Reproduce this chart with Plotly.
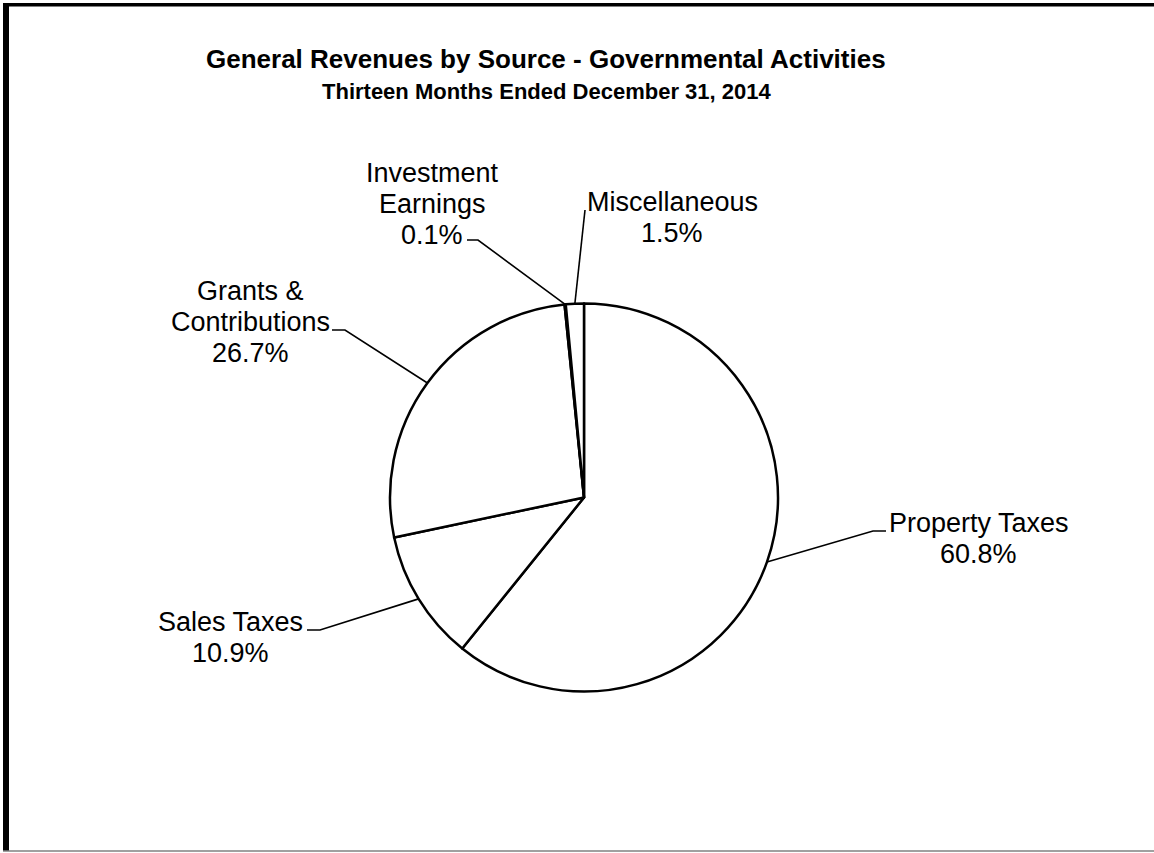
import math
import plotly.graph_objects as go

W, H = 1154, 853

# Revenue shares (percent of general revenues)
categories = ["Property Taxes", "Sales Taxes", "Grants & Contributions",
              "Investment Earnings", "Miscellaneous"]
shares = [60.8, 10.9, 26.7, 0.1, 1.5]
label_lines = [["Property Taxes"], ["Sales Taxes"], ["Grants &", "Contributions"],
               ["Investment", "Earnings"], ["Miscellaneous"]]

title_text = "General Revenues by Source - Governmental Activities"
subtitle_text = "Thirteen Months Ended December 31, 2014"

# Pie placement in pixels (centre and radius)
CX, CY, R = 584, 497.5, 194

# Label layout: text centre x, first-line centre y, leader elbow, leader end
label_layout = [
    dict(x=979, y=523, elbow=(873, 531), end=(886, 531)),
    dict(x=230, y=622, elbow=(320, 630), end=(307, 630)),
    dict(x=250, y=291, elbow=(345, 330), end=(332, 330)),
    dict(x=432, y=173, elbow=(478, 240), end=(467, 240)),
    dict(x=672, y=202, elbow=(585, 210), end=None),
]
LINE_GAP = 31
LABEL_FONT = dict(family="Liberation Sans, Arial, sans-serif", size=27, color="black")
TITLE_FAMILY = "Liberation Sans, Arial, sans-serif"


def px(x):
    return x / W


def py(y):
    return 1 - y / H


fig = go.Figure(go.Pie(
    labels=categories,
    values=shares,
    sort=False,
    direction="clockwise",
    rotation=0,
    textinfo="none",
    hoverinfo="none",
    showlegend=False,
    marker=dict(colors=["white"] * len(shares), line=dict(color="black", width=2.5)),
    domain=dict(x=[px(CX - R), px(CX + R)], y=[py(CY + R), py(CY - R)]),
))

annotations = []
shapes = []

# Labels with percentages and leader lines from each slice's mid-angle
cum = 0.0
total = sum(shares)
for lines, v, lay in zip(label_lines, shares, label_layout):
    mid = (cum + v / 2) / total * 2 * math.pi
    cum += v
    sx = CX + R * math.sin(mid)
    sy = CY - R * math.cos(mid)
    texts = lines + [f"{v:.1f}%"]
    for i, t in enumerate(texts):
        annotations.append(dict(
            x=px(lay["x"]), y=py(lay["y"] + i * LINE_GAP), xref="paper", yref="paper",
            text=t, showarrow=False, xanchor="center", yanchor="middle", font=LABEL_FONT,
        ))
    pts = [(sx, sy), lay["elbow"]]
    if lay["end"] is not None:
        pts.append(lay["end"])
    path = "M " + " L ".join(f"{px(a)},{py(b)}" for a, b in pts)
    shapes.append(dict(type="path", path=path, xref="paper", yref="paper",
                       line=dict(color="black", width=1.6)))

# Titles
annotations.append(dict(
    x=px(546), y=py(59), xref="paper", yref="paper", text=f"<b>{title_text}</b>",
    showarrow=False, xanchor="center", yanchor="middle",
    font=dict(family=TITLE_FAMILY, size=26, color="black"),
))
annotations.append(dict(
    x=px(546), y=py(91), xref="paper", yref="paper", text=f"<b>{subtitle_text}</b>",
    showarrow=False, xanchor="center", yanchor="middle",
    font=dict(family=TITLE_FAMILY, size=22, color="black"),
))

# Frame: thick left and top edges, thin bottom edge
shapes += [
    dict(type="rect", xref="paper", yref="paper", x0=px(3), x1=px(9), y0=py(851), y1=py(3),
         fillcolor="black", line=dict(width=0)),
    dict(type="rect", xref="paper", yref="paper", x0=px(3), x1=px(W), y0=py(6.5), y1=py(3),
         fillcolor="black", line=dict(width=0)),
    dict(type="line", xref="paper", yref="paper", x0=px(3), x1=px(W), y0=py(851), y1=py(851),
         line=dict(color="#808080", width=1.5)),
]

fig.update_layout(
    width=W, height=H,
    margin=dict(l=0, r=0, t=0, b=0),
    paper_bgcolor="white", plot_bgcolor="white",
    annotations=annotations, shapes=shapes,
)

fig.write_html("out.html")
